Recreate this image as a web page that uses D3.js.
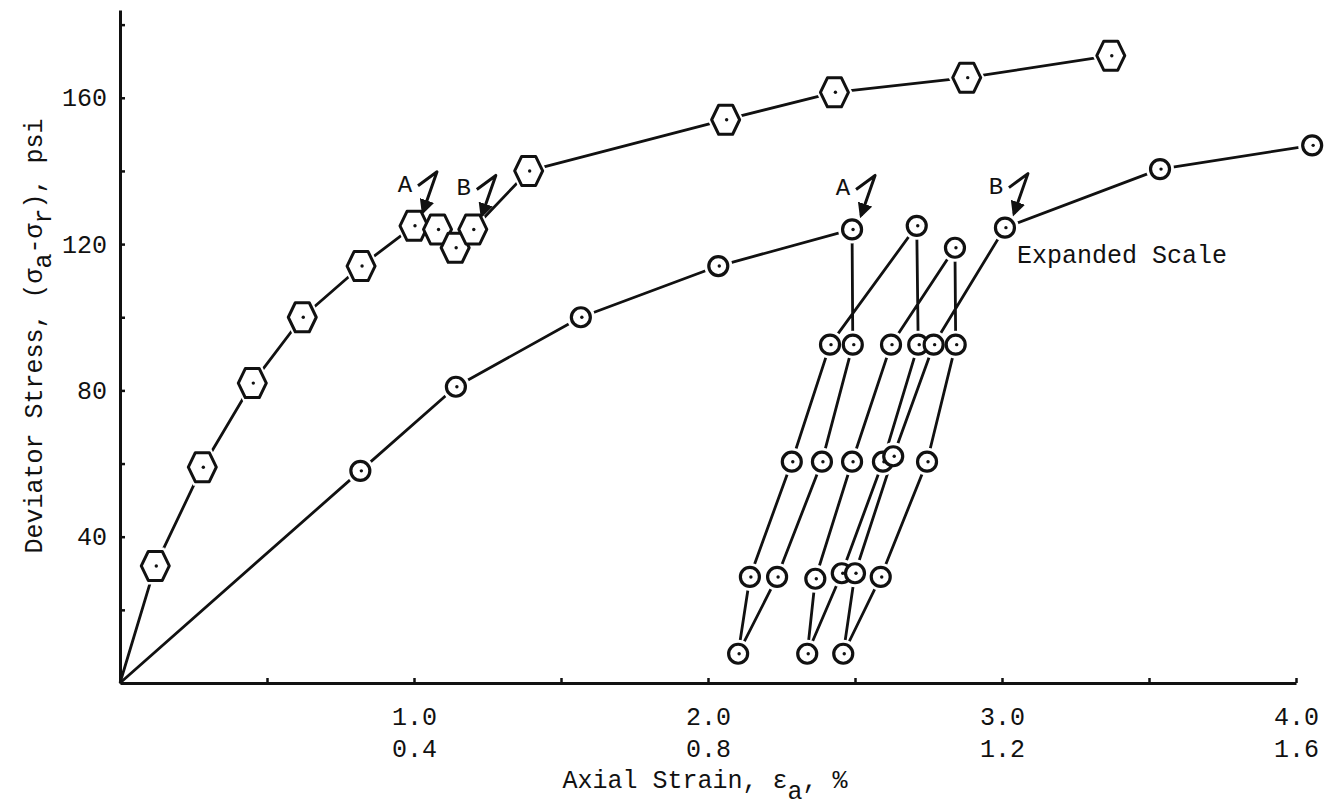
<!DOCTYPE html>
<html>
<head>
<meta charset="utf-8">
<script src="https://cdnjs.cloudflare.com/ajax/libs/d3/7.8.5/d3.min.js"></script>
<style>
body{margin:0;background:#fff;}
text{font-family:"Liberation Mono","DejaVu Sans Mono",monospace;fill:#111;}
</style>
</head>
<body>
<script>
//---------------------------------- datos
// serie hexagonos (escala normal, fila superior 1.0 .. 4.0)
var strainHex = [0, 0.12, 0.28, 0.45, 0.62, 0.82, 1.00, 1.08, 1.14, 1.20, 1.39, 2.06, 2.43, 2.88, 3.37];
var stressHex = [0, 32, 59, 82, 100, 114, 125, 124, 119, 124, 140, 154, 161.5, 165.5, 171.5];
// serie circulos (escala expandida, fila inferior 0.4 .. 1.6), con ciclos de descarga
var strainExp = [0, 0.327, 0.457, 0.627, 0.814, 0.996,
	0.997, 0.955, 0.894, 0.841, 0.857, 0.914, 0.966, 1.084,
	1.086, 1.038, 0.982, 0.935, 0.946, 0.996, 1.049, 1.136,
	1.137, 1.098, 1.035, 0.984, 1.000, 1.052, 1.107, 1.204,
	1.415, 1.622];
var stressExp = [0, 58, 81, 100, 114, 124,
	92.5, 60.5, 29, 8, 29, 60.5, 92.5, 125,
	92.5, 60.5, 30, 8, 28.5, 60.5, 92.5, 119,
	92.5, 60.5, 29, 8, 30, 62, 92.5, 124.5,
	140.5, 147];
var yTicks = [20, 40, 60, 80, 100, 120, 140, 160, 180];
var yLabels = [40, 80, 120, 160];
var xTicks = [0.5, 1, 1.5, 2, 2.5, 3, 3.5, 4];
var xLabels = [1, 2, 3, 4];
var xLabelsExp = [0.4, 0.8, 1.2, 1.6];
var notesHex = [{t:"A", i:6}, {t:"B", i:9}];
var notesExp = [{t:"A", i:5}, {t:"B", i:29}];
//----------------------------------

var ancho = 1325, alto = 806;
var svg = d3.select("body").append("svg").attr("width", ancho).attr("height", alto);

var x = d3.scaleLinear().domain([0, 4]).range([120, 1296]);
var xExp = d3.scaleLinear().domain([0, 1.6]).range([120, 1296]);
var y = d3.scaleLinear().domain([0, 184]).range([683, 10]);

var hexData = strainHex.map(function (d, i) { return {x: x(d), y: y(stressHex[i])}; });
var expData = strainExp.map(function (d, i) { return {x: xExp(d), y: y(stressExp[i])}; });

//---------------------------------- ejes
var ejeY = svg.append("g").attr("transform", "translate(120,0)")
	.call(d3.axisLeft(y).tickValues(yTicks).tickSizeInner(-5).tickSizeOuter(0).tickPadding(13)
		.tickFormat(function (d) { return yLabels.indexOf(d) >= 0 ? d : ""; }));
var ejeX = svg.append("g").attr("transform", "translate(0,683)")
	.call(d3.axisBottom(x).tickValues(xTicks).tickSizeInner(-5).tickSizeOuter(0).tickPadding(24)
		.tickFormat(function (d) { return xLabels.indexOf(d) >= 0 ? d3.format(".1f")(d) : ""; }));
var ejeX2 = svg.append("g").attr("transform", "translate(0,683)")
	.call(d3.axisBottom(xExp).tickValues(xLabelsExp).tickSize(0).tickPadding(56).tickFormat(d3.format(".1f")));
ejeX2.select(".domain").remove();

[ejeY, ejeX, ejeX2].forEach(function (g) {
	g.selectAll(".domain").attr("stroke", "#111").attr("stroke-width", 3);
	g.selectAll(".tick line").attr("stroke", "#111").attr("stroke-width", 2.5);
	g.selectAll("text").attr("font-size", 25).attr("font-family", null).attr("fill", "#111");
});

// titulos
var tx = svg.append("text").attr("x", 705).attr("y", 788).attr("text-anchor", "middle").attr("font-size", 25);
tx.append("tspan").text("Axial Strain, \u03b5");
tx.append("tspan").attr("dy", 11).text("a");
tx.append("tspan").attr("dy", -11).text(", %");

var ty = svg.append("text").attr("transform", "translate(42,336) rotate(-90)").attr("text-anchor", "middle").attr("font-size", 25);
ty.append("tspan").text("Deviator Stress, (\u03c3");
ty.append("tspan").attr("dy", 9).text("a");
ty.append("tspan").attr("dy", -9).text("-\u03c3");
ty.append("tspan").attr("dy", 9).text("r");
ty.append("tspan").attr("dy", -9).text("), psi");

svg.append("text").attr("x", 1017).attr("y", 263).attr("font-size", 25).text("Expanded Scale");

//---------------------------------- lineas
var linea = d3.line().x(function (d) { return d.x; }).y(function (d) { return d.y; });
[hexData, expData].forEach(function (serie) {
	svg.append("path").attr("d", linea(serie)).attr("fill", "none")
		.attr("stroke", "#111").attr("stroke-width", 2.8).attr("stroke-linejoin", "round");
});

//---------------------------------- marcadores
function hexPath(rx, ry) {
	var p = [[-rx, 0], [-rx / 2, -ry], [rx / 2, -ry], [rx, 0], [rx / 2, ry], [-rx / 2, ry]];
	return "M" + p.join("L") + "Z";
}
var puntosHex = hexData.slice(1), puntosExp = expData.slice(1);

// halo blanco para dejar hueco entre linea y marcador
svg.append("g").selectAll("path").data(puntosHex).enter().append("path")
	.attr("d", hexPath(18, 18.5)).attr("transform", function (d) { return "translate(" + d.x + "," + d.y + ")"; })
	.attr("fill", "#fff");
svg.append("g").selectAll("circle").data(puntosExp).enter().append("circle")
	.attr("cx", function (d) { return d.x; }).attr("cy", function (d) { return d.y; })
	.attr("r", 14).attr("fill", "#fff");

svg.append("g").selectAll("path").data(puntosHex).enter().append("path")
	.attr("d", hexPath(14, 14.5)).attr("transform", function (d) { return "translate(" + d.x + "," + d.y + ")"; })
	.attr("fill", "#fff").attr("stroke", "#111").attr("stroke-width", 3).attr("stroke-linejoin", "round");
svg.append("g").selectAll("circle").data(puntosExp).enter().append("circle")
	.attr("cx", function (d) { return d.x; }).attr("cy", function (d) { return d.y; })
	.attr("r", 9.5).attr("fill", "#fff").attr("stroke", "#111").attr("stroke-width", 3.2);

svg.append("g").selectAll("circle").data(puntosHex.concat(puntosExp)).enter().append("circle")
	.attr("cx", function (d) { return d.x + 1; }).attr("cy", function (d) { return d.y; })
	.attr("r", 1.7).attr("fill", "#111");

//---------------------------------- notas A / B
svg.append("defs").append("marker").attr("id", "punta")
	.attr("viewBox", "0 0 10 10").attr("refX", 8).attr("refY", 5)
	.attr("markerWidth", 5).attr("markerHeight", 5).attr("orient", "auto")
	.append("path").attr("d", "M0,0L10,5L0,10Z").attr("fill", "#111");

function notas(lista, datos) {
	lista.forEach(function (n) {
		var p = datos[n.i];
		svg.append("text").attr("x", p.x - 9).attr("y", p.y - 34).attr("text-anchor", "middle")
			.attr("font-size", 24).text(n.t);
		svg.append("path")
			.attr("d", "M" + (p.x + 4) + "," + (p.y - 40) + "L" + (p.x + 23) + "," + (p.y - 54) +
				"L" + (p.x + 9) + "," + (p.y - 14))
			.attr("fill", "none").attr("stroke", "#111").attr("stroke-width", 3)
			.attr("stroke-linejoin", "round").attr("marker-end", "url(#punta)");
	});
}
notas(notesHex, hexData);
notas(notesExp, expData);
</script>
</body>
</html>
